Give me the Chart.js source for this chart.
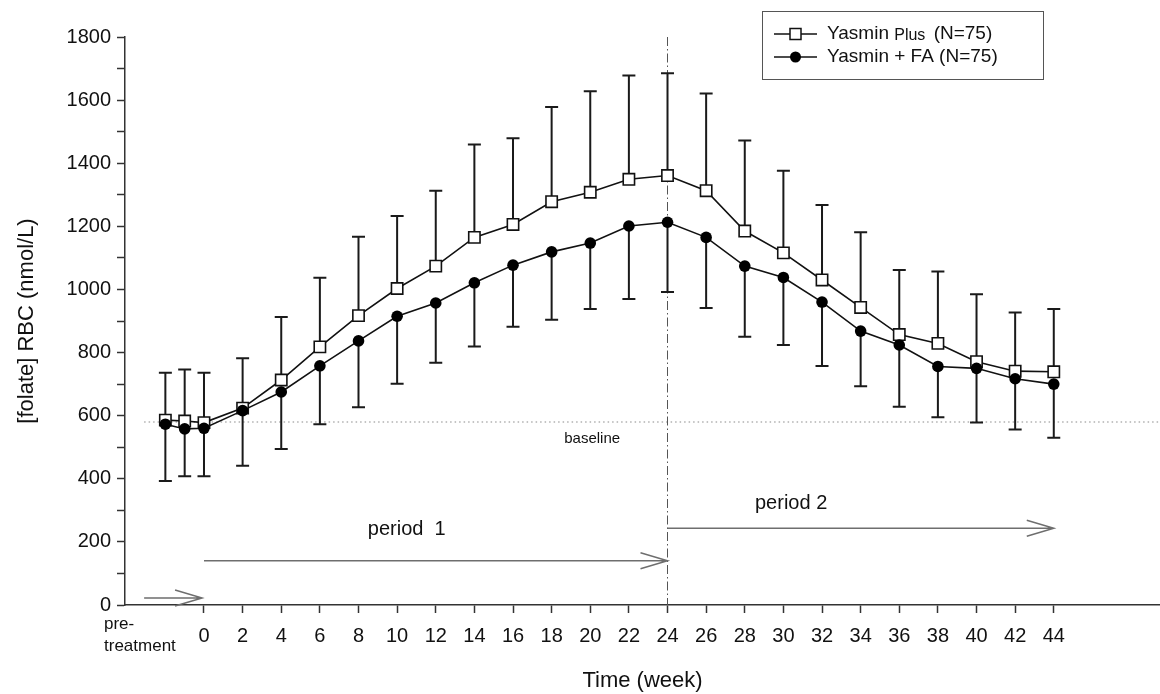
<!DOCTYPE html>
<html>
<head>
<meta charset="utf-8">
<script src="https://cdn.jsdelivr.net/npm/chart.js@4.4.1/dist/chart.umd.min.js"></script>
<style>
  body { margin: 0; background: #fff; }
  #wrap { width: 1160px; height: 694px; position: relative; }
</style>
</head>
<body>
<div id="wrap"><canvas id="myChart"></canvas></div>
<script>
// weeks (-2 and -1 are the pre-treatment visits)
const weeks = [-2, -1, 0, 2, 4, 6, 8, 10, 12, 14, 16, 18, 20, 22, 24, 26, 28, 30, 32, 34, 36, 38, 40, 42, 44];
const weekTicks = [0, 2, 4, 6, 8, 10, 12, 14, 16, 18, 20, 22, 24, 26, 28, 30, 32, 34, 36, 38, 40, 42, 44];

// Yasmin Plus: mean and top of the error bar (mean + SD)
const plusMean  = [586, 583, 578, 624, 713, 818, 917, 1003, 1074, 1165, 1206, 1278, 1308, 1349, 1361, 1313, 1185, 1116, 1030, 943, 857, 829, 771, 741, 739];
const plusUpper = [736, 746, 736, 782, 913, 1037, 1167, 1233, 1313, 1459, 1479, 1578, 1628, 1678, 1685, 1621, 1472, 1376, 1268, 1181, 1062, 1057, 985, 927, 938];

// Yasmin + FA: mean and bottom of the error bar (mean - SD)
const faMean  = [573, 558, 560, 616, 675, 758, 837, 915, 957, 1021, 1077, 1119, 1147, 1201, 1213, 1165, 1074, 1038, 960, 868, 824, 756, 750, 717, 700];
const faLower = [393, 408, 408, 441, 494, 573, 627, 701, 768, 819, 882, 904, 938, 970, 992, 941, 850, 824, 757, 693, 628, 595, 578, 556, 530];

const legendLabels = ['Yasmin Plus (N=75)', 'Yasmin + FA (N=75)'];
const baseline = 580;

const FONT = '"Liberation Sans", Arial, sans-serif';

function arrow(ctx, x1, x2, y) {
    ctx.beginPath();
    ctx.moveTo(x1, y);
    ctx.lineTo(x2, y);
    ctx.moveTo(x2 - 27, y - 8);
    ctx.lineTo(x2, y);
    ctx.lineTo(x2 - 27, y + 8);
    ctx.stroke();
}

// error bars: up for Yasmin Plus, down for Yasmin + FA
const errorBars = {
    id: 'errorBars',
    beforeDatasetsDraw(chart) {
        const ctx = chart.ctx, xs = chart.scales.x, ys = chart.scales.y;
        ctx.save();
        ctx.strokeStyle = '#1a1a1a';
        ctx.lineWidth = 2;
        weeks.forEach((w, i) => {
            const x = xs.getPixelForValue(w);
            const pairs = [[plusMean[i], plusUpper[i]], [faMean[i], faLower[i]]];
            pairs.forEach(p => {
                const y0 = ys.getPixelForValue(p[0]);
                const y1 = ys.getPixelForValue(p[1]);
                ctx.beginPath();
                ctx.moveTo(x, y0);
                ctx.lineTo(x, y1);
                ctx.moveTo(x - 6.5, y1);
                ctx.lineTo(x + 6.5, y1);
                ctx.stroke();
            });
        });
        ctx.restore();
    }
};

// baseline, week-24 divider, period arrows and texts
const annotations = {
    id: 'annotations',
    beforeDatasetsDraw(chart) {
        const ctx = chart.ctx, xs = chart.scales.x, ys = chart.scales.y;
        const area = chart.chartArea;
        ctx.save();

        // dotted baseline
        ctx.strokeStyle = '#8a8a8a';
        ctx.lineWidth = 1.2;
        ctx.setLineDash([1.5, 3]);
        ctx.beginPath();
        ctx.moveTo(xs.getPixelForValue(-3.1), ys.getPixelForValue(baseline));
        ctx.lineTo(area.right, ys.getPixelForValue(baseline));
        ctx.stroke();

        // dash-dot line at week 24
        ctx.strokeStyle = '#555';
        ctx.lineWidth = 1;
        ctx.setLineDash([9, 3, 1.5, 3]);
        ctx.beginPath();
        ctx.moveTo(xs.getPixelForValue(24), ys.getPixelForValue(1800));
        ctx.lineTo(xs.getPixelForValue(24), ys.getPixelForValue(0));
        ctx.stroke();
        ctx.setLineDash([]);

        // arrows
        ctx.strokeStyle = '#6e6e6e';
        ctx.lineWidth = 1.5;
        arrow(ctx, xs.getPixelForValue(-3.1), xs.getPixelForValue(-0.1), ys.getPixelForValue(22));
        arrow(ctx, xs.getPixelForValue(0), xs.getPixelForValue(24), ys.getPixelForValue(140));
        arrow(ctx, xs.getPixelForValue(24), xs.getPixelForValue(44), ys.getPixelForValue(243));

        // texts
        ctx.fillStyle = '#111';
        ctx.textAlign = 'center';
        ctx.textBaseline = 'middle';
        ctx.font = '20px ' + FONT;
        ctx.fillText('period  1', xs.getPixelForValue(10.5), ys.getPixelForValue(238));
        ctx.fillText('period 2', xs.getPixelForValue(30.4), ys.getPixelForValue(322));
        ctx.font = '15px ' + FONT;
        ctx.fillText('baseline', xs.getPixelForValue(20.1), ys.getPixelForValue(526));

        // pre-treatment label under the axis
        ctx.textAlign = 'left';
        ctx.font = '17px ' + FONT;
        ctx.fillText('pre-', 104, 624);
        ctx.fillText('treatment', 104, 646);
        ctx.restore();
    },
    afterDraw(chart) {
        const ctx = chart.ctx;
        ctx.save();
        // legend box
        ctx.fillStyle = '#fff';
        ctx.fillRect(762, 11, 281, 68);
        ctx.strokeStyle = '#555';
        ctx.lineWidth = 1;
        ctx.strokeRect(762.5, 11.5, 281, 68);
        const rows = [34, 57];
        rows.forEach((y, i) => {
            ctx.strokeStyle = '#111';
            ctx.lineWidth = 1.5;
            ctx.beginPath();
            ctx.moveTo(774, y);
            ctx.lineTo(817, y);
            ctx.stroke();
            if (i === 0) {
                ctx.fillStyle = '#fff';
                ctx.fillRect(790, y - 5.5, 11, 11);
                ctx.strokeRect(790, y - 5.5, 11, 11);
            } else {
                ctx.fillStyle = '#000';
                ctx.beginPath();
                ctx.arc(795.5, y, 5.5, 0, Math.PI * 2);
                ctx.fill();
            }
            ctx.fillStyle = '#111';
            ctx.textAlign = 'left';
            ctx.textBaseline = 'middle';
            // "Plus" is set a little smaller in the original legend
            const parts = legendLabels[i].split(/(Plus)/);
            let x = 827;
            parts.forEach(part => {
                ctx.font = (part === 'Plus' ? '16px ' : '19px ') + FONT;
                ctx.fillText(part, x, part === 'Plus' ? y + 1.5 : y);
                x += ctx.measureText(part).width + (part === 'Plus' ? 3 : 0);
            });
        });
        ctx.restore();
    }
};

const ctx = document.getElementById('myChart').getContext('2d');
const myChart = new Chart(ctx, {
    type: 'line',
    data: {
        labels: weeks,
        datasets: [
            {
                label: legendLabels[0],
                data: weeks.map((w, i) => ({ x: w, y: plusMean[i] })),
                borderColor: '#111',
                borderWidth: 1.6,
                pointStyle: 'rect',
                pointRadius: 8,
                pointBackgroundColor: '#fff',
                pointBorderColor: '#111',
                pointBorderWidth: 1.6,
                order: 1
            },
            {
                label: legendLabels[1],
                data: weeks.map((w, i) => ({ x: w, y: faMean[i] })),
                borderColor: '#111',
                borderWidth: 1.6,
                pointStyle: 'circle',
                pointRadius: 5.8,
                pointBackgroundColor: '#000',
                pointBorderColor: '#000',
                pointBorderWidth: 0,
                order: 0
            }
        ]
    },
    options: {
        responsive: true,
        maintainAspectRatio: false,
        animation: false,
        layout: { autoPadding: false, padding: { top: 37, right: 0, left: 0, bottom: 0 } },
        plugins: {
            legend: { display: false },
            tooltip: { enabled: false }
        },
        scales: {
            x: {
                type: 'linear',
                min: -4.09,
                max: 49.5,
                afterBuildTicks: scale => { scale.ticks = weekTicks.map(v => ({ value: v })); },
                afterFit: scale => { scale.height = 89; scale.paddingRight = 0; scale.paddingLeft = 0; },
                grid: { drawOnChartArea: false, drawTicks: true, tickLength: 8, color: '#333', tickWidth: 1.5 },
                border: { display: true, color: '#333', width: 1.5 },
                ticks: { color: '#111', font: { family: FONT, size: 20 }, padding: 11, maxRotation: 0, autoSkip: false },
                title: { display: true, text: 'Time (week)', color: '#111', font: { family: FONT, size: 22 }, padding: { top: 0, bottom: 0 } }
            },
            y: {
                min: 0,
                max: 1800,
                afterFit: scale => { scale.width = 125; },
                grid: { drawOnChartArea: false, drawTicks: true, tickLength: 8, color: '#333', tickWidth: 1.5 },
                border: { display: true, color: '#333', width: 1.5 },
                ticks: {
                    stepSize: 100,
                    color: '#111',
                    font: { family: FONT, size: 20 },
                    padding: 6,
                    callback: v => (v % 200 === 0 ? v : '')
                },
                title: { display: true, text: '[folate] RBC (nmol/L)', color: '#111', font: { family: FONT, size: 22 }, padding: { top: 14, bottom: 0 } }
            }
        }
    },
    plugins: [annotations, errorBars]
});
</script>
</body>
</html>
